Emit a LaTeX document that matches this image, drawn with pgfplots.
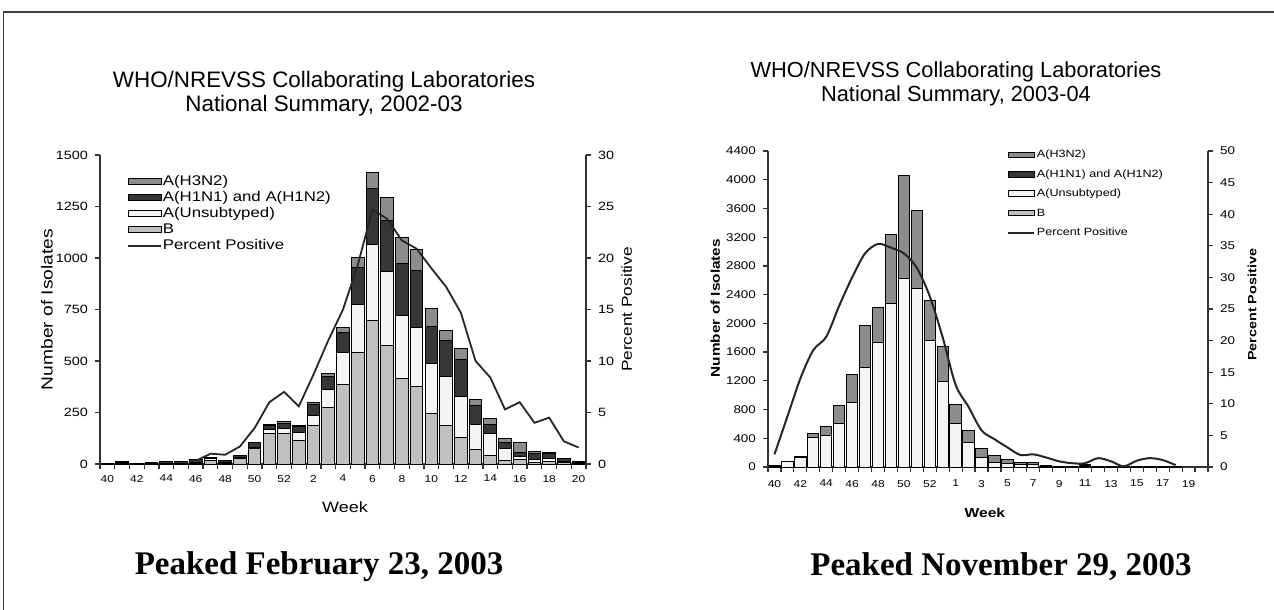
\documentclass[border=0pt]{standalone}
\usepackage{fontspec}
\setmainfont{Liberation Sans}
\newfontfamily\wide{Liberation Sans}[FakeStretch=1.2]
\newfontfamily\capserif{Liberation Serif}
\usepackage{pgfplots}
\usepackage{pgfplotstable}
\pgfplotsset{compat=1.18}

\definecolor{fluB}{HTML}{C0C0C0}
\definecolor{fluU}{HTML}{F4F4F4}
\definecolor{fluHone}{HTML}{363636}
\definecolor{fluHthree}{HTML}{8C8C8C}

% 2002-03: weeks 40..52, 1..20 -> index 0..32
\pgfplotstableread{
i  B    U    H1   H3
0  0    0    2    0
1  3    2    8    0
2  0    0    3    0
3  2    1    6    0
4  2    1    7    0
5  2    1    7    0
6  4    2    14   0
7  15   12   5    0
8  4    2    9    0
9  25   5    10   0
10 73   5    25   0
11 150  18   20   3
12 150  20   25   10
13 115  38   28   7
14 185  50   55   10
15 275  88   62   12
16 384  156  100  23
17 541  231  183  48
18 699  368  271  76
19 573  361  250  111
20 414  306  251  128
21 375  287  276  101
22 243  243  183  87
23 186  240  175  45
24 128  200  177  58
25 71   122  92   29
26 43   105  45   27
27 15   62   28   18
28 20   18   20   45
29 8    15   30   7
30 10   15   28   5
31 5    5    15   2
32 2    3    8    0
}\isolatesA

\pgfplotstableread{
i  pct
6  0.3
7  1.0
8  0.9
9  1.7
10 3.5
11 6.0
12 7.0
13 5.6
14 8.7
15 12.0
16 15.0
17 19.3
18 24.7
19 23.8
20 21.7
21 20.9
22 19.0
23 17.2
24 14.7
25 10.0
26 8.4
27 5.3
28 6.0
29 4.0
30 4.5
31 2.2
32 1.6
}\pctA

% 2003-04: weeks 40..53, 1..20 -> index 0..33
\pgfplotstableread{
i  B  U     H1  H3
0  0  12    0   3
1  0  70    0   5
2  0  135   0   10
3  0  405   0   65
4  0  440   0   120
5  0  600   0   262
6  0  900   0   390
7  0  1380  0   592
8  0  1740  0   487
9  0  2270  0   973
10 0  2630  0   1430
11 0  2480  0   1087
12 0  1760  0   560
13 0  1190  0   482
14 0  600   0   265
15 0  340   0   165
16 0  137   0   115
17 0  65    0   100
18 0  47    0   55
19 0  30    0   35
20 0  28    0   37
21 0  8     0   7
22 0  5     0   5
23 0  5     0   5
24 0  5     20  5
25 0  5     0   5
26 0  5     0   5
27 0  3     0   3
28 0  5     0   5
29 0  5     0   5
30 0  3     0   3
31 0  2     0   2
32 0  0     0   0
33 0  0     0   0
}\isolatesB

\pgfplotstableread{
i  pct
0  2.0
1  8.0
2  14.0
3  18.5
4  20.6
5  25.5
6  30.0
7  33.8
8  35.3
9  34.7
10 33.8
11 31.5
12 27.0
13 20.5
14 13.0
15 9.5
16 5.8
17 4.4
18 3.1
19 1.9
20 2.0
21 1.5
22 0.9
23 0.6
24 0.6
25 1.4
26 0.9
27 0.1
28 1.0
29 1.4
30 1.1
31 0.3
}\pctB

\pgfplotsset{
  flubase/.style={
    scale only axis,
    xmin=-0.5, xmax=#1,
    axis line style={-, draw=black!80, line width=0.6pt},
    tick style={draw=black!80, line width=0.6pt},
    tick align=outside,
    major tick length=2.5pt,
    scaled ticks=false,
    /pgf/number format/1000 sep={},
    /pgf/number format/assume math mode=true,
    clip=false,
  },
  swatch/.style={legend image code/.code={%
    \draw[##1] (0pt,-1.4pt) rectangle (#1,1.4pt);}},
  lineswatch/.style={legend image code/.code={%
    \draw[##1] (0pt,0pt) -- (#1,0pt);}},
  barstyle/.style={draw=black, line width=0.5pt},
}

\begin{document}
\begin{tikzpicture}
\begin{scope}[x=0.5pt,y=-0.5pt]
  \useasboundingbox (0,0) rectangle (1274,610);
  \draw[black!75, line width=0.8pt] (1290,12) -- (3.5,12) -- (3.5,630);
  \node[align=center, font=\fontsize{11.2}{12}\selectfont] at (324,94)
    {WHO/NREVSS Collaborating Laboratories\\National Summary, 2002-03};
  \node[align=center, font=\fontsize{10.9}{12}\selectfont] at (956,84)
    {WHO/NREVSS Collaborating Laboratories\\National Summary, 2003-04};
  \node[font=\capserif\bfseries\fontsize{16.5}{18}\selectfont] at (319,567)
    {Peaked February 23, 2003};
  \node[font=\capserif\bfseries\fontsize{16.5}{18}\selectfont] at (1001,567)
    {Peaked November 29, 2003};
\end{scope}

% ---------- 2002-03 ----------
\begin{axis}[flubase=32.5,
  at={(50pt,-232pt)}, anchor=south west,
  width=243pt, height=154.5pt,
  ybar stacked, bar width=0.86,
  ymin=0, ymax=1500, ytick={0,250,...,1500},
  axis y line*=left, axis x line*=bottom,
  xtick={-0.5,0.5,...,32.5}, xticklabels={},
  extra x ticks={0,2,...,32},
  extra x tick labels={40,42,44,46,48,50,52,2,4,6,8,10,12,14,16,18,20},
  extra x tick style={major tick length=0pt},
  yticklabel style={font=\wide\fontsize{6}{7}\selectfont},
  xticklabel style={font=\wide\fontsize{5}{6}\selectfont, yshift=-2pt},
  ylabel={Number of Isolates},
  ylabel style={at={(axis description cs:-0.109,0.5)}, anchor=center,
    font=\wide\fontsize{8}{9}\selectfont},
  xlabel={Week},
  xlabel style={at={(axis description cs:0.504,-0.139)}, anchor=center,
    font=\wide\fontsize{7.5}{8.5}\selectfont},
]
\addplot[barstyle, fill=fluB] table[x=i,y=B]{\isolatesA};
\addplot[barstyle, fill=fluU] table[x=i,y=U]{\isolatesA};
\addplot[barstyle, fill=fluHone] table[x=i,y=H1]{\isolatesA};
\addplot[barstyle, fill=fluHthree] table[x=i,y=H3]{\isolatesA};
\end{axis}

\begin{axis}[flubase=32.5,
  at={(50pt,-232pt)}, anchor=south west,
  width=243pt, height=154.5pt,
  ymin=0, ymax=30, ytick={0,5,...,30},
  axis y line*=right, axis x line=none,
  yticklabel style={font=\wide\fontsize{6}{7}\selectfont},
  ylabel={Percent Positive},
  ylabel style={at={(axis description cs:1.084,0.5)}, anchor=center,
    font=\wide\fontsize{7.2}{8}\selectfont},
  legend style={at={(axis description cs:0.0556,0.9385)}, anchor=north west,
    draw=none, fill=none, inner sep=0pt, row sep=0.7pt,
    font=\wide\fontsize{7}{8}\selectfont,
    nodes={inner sep=0.3pt, text height=5.2pt, text depth=1.5pt}},
  legend cell align=left,
]
\addlegendimage{swatch=16.5pt, barstyle, fill=fluHthree}
\addlegendentry{A(H3N2)}
\addlegendimage{swatch=16.5pt, barstyle, fill=fluHone}
\addlegendentry{A(H1N1) and A(H1N2)}
\addlegendimage{swatch=16.5pt, barstyle, fill=fluU}
\addlegendentry{A(Unsubtyped)}
\addlegendimage{swatch=16.5pt, barstyle, fill=fluB}
\addlegendentry{B}
\addplot[black!85, line width=0.9pt, lineswatch=16.5pt] table[x=i,y=pct]{\pctA};
\addlegendentry{Percent Positive}
\end{axis}

% ---------- 2003-04 ----------
\begin{axis}[flubase=33.5,
  at={(384pt,-233.5pt)}, anchor=south west,
  width=220pt, height=158pt,
  ybar stacked, bar width=0.88,
  ymin=0, ymax=4400, ytick={0,400,...,4400},
  axis y line*=left, axis x line*=bottom,
  xtick={-0.5,0.5,...,33.5}, xticklabels={},
  extra x ticks={0,2,...,32},
  extra x tick labels={40,42,44,46,48,50,52,1,3,5,7,9,11,13,15,17,19},
  extra x tick style={major tick length=0pt},
  yticklabel style={font=\wide\fontsize{5.6}{6.5}\selectfont},
  xticklabel style={font=\wide\fontsize{5}{6}\selectfont, yshift=-3pt},
  ylabel={Number of Isolates},
  ylabel style={at={(axis description cs:-0.12,0.503)}, anchor=center,
    font=\wide\bfseries\fontsize{6.4}{7.5}\selectfont},
  xlabel={Week},
  xlabel style={at={(axis description cs:0.493,-0.146)}, anchor=center,
    font=\wide\bfseries\fontsize{6.5}{7.5}\selectfont},
]
\addplot[barstyle, fill=fluB] table[x=i,y=B]{\isolatesB};
\addplot[barstyle, fill=fluU] table[x=i,y=U]{\isolatesB};
\addplot[barstyle, fill=fluHone] table[x=i,y=H1]{\isolatesB};
\addplot[barstyle, fill=fluHthree] table[x=i,y=H3]{\isolatesB};
\end{axis}

\begin{axis}[flubase=33.5,
  at={(384pt,-233.5pt)}, anchor=south west,
  width=220pt, height=158pt,
  ymin=0, ymax=50, ytick={0,5,...,50},
  axis y line*=right, axis x line=none,
  yticklabel style={font=\wide\fontsize{5.6}{6.5}\selectfont},
  ylabel={Percent Positive},
  ylabel style={at={(axis description cs:1.1,0.513)}, anchor=center,
    font=\wide\bfseries\fontsize{6}{7}\selectfont},
  legend style={at={(axis description cs:0.543,1.011)}, anchor=north west,
    draw=none, fill=none, inner sep=0pt, row sep=2.7pt,
    font=\wide\fontsize{5.25}{6}\selectfont,
    nodes={inner sep=0.8pt, text height=4.2pt, text depth=1.2pt}},
  legend cell align=left,
]
\addlegendimage{swatch=13pt, barstyle, fill=fluHthree}
\addlegendentry{A(H3N2)}
\addlegendimage{swatch=13pt, barstyle, fill=fluHone}
\addlegendentry{A(H1N1) and A(H1N2)}
\addlegendimage{swatch=13pt, barstyle, fill=fluU}
\addlegendentry{A(Unsubtyped)}
\addlegendimage{swatch=13pt, barstyle, fill=fluB}
\addlegendentry{B}
\addplot[black!85, line width=1pt, smooth, tension=0.5, lineswatch=13pt]
  table[x=i,y=pct]{\pctB};
\addlegendentry{Percent Positive}
\end{axis}
\end{tikzpicture}
\end{document}
